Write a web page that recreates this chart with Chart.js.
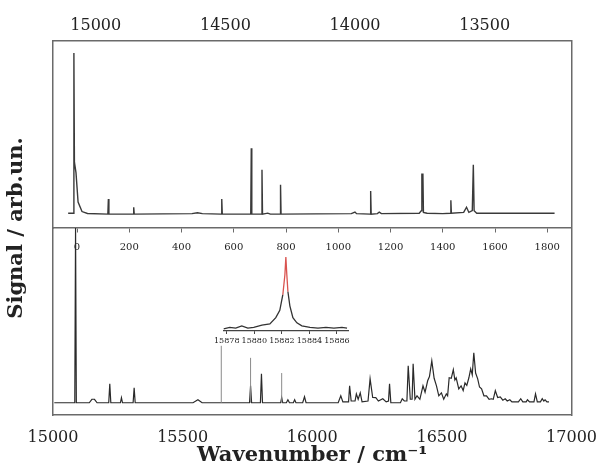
<!DOCTYPE html>
<html>
<head>
<meta charset="utf-8">
<script src="https://cdn.jsdelivr.net/npm/chart.js@4.4.1/dist/chart.umd.min.js"></script>
<style>
  body { margin: 0; background: #fff; }
  #wrap { position: relative; width: 610px; height: 464px; }
  #main { position: absolute; left: 0; top: 0; }
  #inset { position: absolute; left: 208px; top: 250px; }
</style>
</head>
<body>
<div id="wrap">
  <canvas id="main" width="610" height="464"></canvas>
  <canvas id="inset" width="160" height="100"></canvas>
</div>
<script>
// --- tick labels ---
const topTicks = [15000, 14500, 14000, 13500];
const shiftTicks = [0, 200, 400, 600, 800, 1000, 1200, 1400, 1600, 1800];
const bottomTicks = [15000, 15500, 16000, 16500, 17000];
const insetTicks = [15878, 15880, 15882, 15884, 15886];

// --- upper spectrum (shift, cm-1) ---
const topShift = [-34, -15, -12, -10, -4, 4, 19, 40, 118, 120, 122, 215, 217, 219, 440, 461, 480,
  552, 554, 556, 665, 667, 669, 706, 708, 710, 730, 740, 777, 779, 781, 1050, 1064, 1070,
  1122, 1124, 1126, 1150, 1157, 1165, 1310, 1318, 1320, 1324, 1326, 1340, 1400, 1429, 1431, 1433,
  1480, 1491, 1500, 1513, 1517, 1520, 1530, 1828];
const topSignal = [0.005, 0.005, 0.93, 0.3, 0.24, 0.07, 0.015, 0.004, 0, 0.087, 0, 0, 0.04, 0, 0.003, 0.008, 0.003,
  0, 0.087, 0, 0, 0.38, 0, 0, 0.256, 0, 0.006, 0, 0, 0.17, 0, 0.003, 0.012, 0.003,
  0, 0.134, 0, 0.003, 0.012, 0.003, 0.005, 0.02, 0.23, 0.23, 0.01, 0.005, 0.003, 0.005, 0.08, 0.005,
  0.01, 0.04, 0.01, 0.02, 0.285, 0.02, 0.005, 0.005];

// --- lower spectrum (wavenumber, cm-1) ---
const botWn = [15005, 15084, 15087, 15090, 15140, 15150, 15160, 15170, 15215, 15219, 15223, 15260, 15264, 15268,
  15309, 15313, 15317, 15540, 15559, 15575, 15758, 15762, 15766, 15800, 15804, 15808, 15878, 15882, 15886,
  15900, 15906, 15912, 15927, 15932, 15937, 15963, 15970, 15976, 16100, 16110, 16118, 16140, 16144, 16150,
  16165, 16170, 16177, 16185, 16192, 16215, 16223, 16233, 16245, 16255, 16272, 16285, 16294, 16298, 16303,
  16340, 16347, 16355, 16365, 16370, 16378, 16385, 16389, 16396, 16404, 16415, 16427, 16435, 16445, 16452,
  16461, 16470, 16479, 16488, 16498, 16507, 16517, 16522, 16528, 16536, 16544, 16550, 16555, 16565, 16574,
  16582, 16589, 16596, 16604, 16611, 16617, 16623, 16630, 16638, 16645, 16653, 16662, 16672, 16682, 16691,
  16698, 16706, 16715, 16725, 16735, 16744, 16752, 16762, 16770, 16795, 16804, 16812, 16825, 16830, 16838,
  16855, 16861, 16868, 16880, 16887, 16893, 16898, 16905, 16913];
const botSignal = [0, 0, 1.0, 0, 0, 0.02, 0.02, 0, 0, 0.109, 0, 0, 0.029, 0,
  0, 0.086, 0, 0, 0.017, 0, 0, 0.097, 0, 0, 0.166, 0, 0, 0.03, 0,
  0, 0.017, 0, 0, 0.017, 0, 0, 0.034, 0, 0, 0.04, 0.005, 0.005, 0.097, 0.01,
  0.01, 0.051, 0.02, 0.057, 0.005, 0.01, 0.137, 0.03, 0.029, 0.01, 0.023, 0.005, 0.01, 0.109, 0,
  0, 0.023, 0.01, 0.01, 0.211, 0.02, 0.02, 0.223, 0.02, 0.04, 0.02, 0.097, 0.06, 0.126, 0.15,
  0.24, 0.14, 0.097, 0.04, 0.057, 0.02, 0.051, 0.04, 0.143, 0.14, 0.189, 0.13, 0.143, 0.08, 0.097,
  0.07, 0.114, 0.1, 0.143, 0.194, 0.16, 0.286, 0.17, 0.137, 0.09, 0.08, 0.04, 0.04, 0.02, 0.023,
  0.02, 0.069, 0.03, 0.034, 0.015, 0.023, 0.01, 0.017, 0.005, 0.005, 0.023, 0.005, 0.005, 0.017, 0.005,
  0.005, 0.051, 0.005, 0.005, 0.023, 0.01, 0.017, 0.005, 0.005];

// thin grey lines in the lower panel
const lineWn = [15649, 15762, 15882];
const lineSignal = [0.326, 0.257, 0.17];

// --- inset: zoom on the 15882 line ---
const insetWn = [15877.78, 15878.22, 15878.65, 15879.09, 15879.53, 15879.96, 15880.55, 15881.13, 15881.56,
  15881.85, 15882.07, 15882.22, 15882.29, 15882.36, 15882.44, 15882.58, 15882.8, 15883.09, 15883.45,
  15884.04, 15884.62, 15885.2, 15885.78, 15886.36, 15886.73];
const insetSignal = [0.03, 0.05, 0.04, 0.07, 0.04, 0.05, 0.08, 0.095, 0.18,
  0.28, 0.49, 0.76, 1.0, 0.76, 0.53, 0.34, 0.18, 0.11, 0.07,
  0.05, 0.04, 0.05, 0.04, 0.05, 0.04];

// --- helpers ---
const SERIF = '"DejaVu Serif", serif';
const INK = '#222';
const frame = { display: true, color: '#6a6a6a', width: 1.5 };
const noGrid = { display: false, drawTicks: false };
const asText = v => String(v);
const zip = (xs, ys) => xs.map((x, i) => ({ x: x, y: ys[i] }));
function fixTicks(list) {
    return axis => { axis.ticks = list.map(v => ({ value: v })); };
}

const linePoints = [];
lineWn.forEach((x, i) => {
    linePoints.push({ x: x, y: 0 }, { x: x, y: lineSignal[i] }, { x: x, y: null });
});

// --- main figure ---
new Chart(document.getElementById('main'), {
    type: 'line',
    data: {
        datasets: [
            { data: zip(topShift, topSignal), xAxisID: 'xs', yAxisID: 'yTop',
              borderColor: '#3a3a3a', borderWidth: 1.4, pointRadius: 0, tension: 0 },
            { data: linePoints, xAxisID: 'x', yAxisID: 'yBot',
              borderColor: '#8a8a8a', borderWidth: 1, pointRadius: 0, tension: 0, spanGaps: false },
            { data: zip(botWn, botSignal), xAxisID: 'x', yAxisID: 'yBot',
              borderColor: '#2a2a2a', borderWidth: 1.2, pointRadius: 0, tension: 0 }
        ]
    },
    options: {
        responsive: false,
        animation: false,
        devicePixelRatio: 1,
        events: [],
        layout: { padding: 0 },
        plugins: { legend: { display: false }, tooltip: { enabled: false } },
        scales: {
            x: {
                type: 'linear', position: 'bottom', min: 15000, max: 17000,
                afterBuildTicks: fixTicks(bottomTicks),
                grid: noGrid, border: frame,
                ticks: { font: { family: SERIF, size: 16 }, color: INK, padding: 13, callback: asText, maxRotation: 0, autoSkip: false },
                title: { display: true, text: 'Wavenumber / cm⁻¹', color: INK, padding: { top: 0, bottom: -4 },
                         font: { family: SERIF, size: 21, weight: 'bold' } },
                afterFit: s => { s.height = 49; }
            },
            xt: {
                type: 'linear', position: 'top', reverse: true, min: 13165, max: 15165,
                afterBuildTicks: fixTicks(topTicks),
                grid: noGrid, border: frame,
                ticks: { font: { family: SERIF, size: 16 }, color: INK, padding: 6, callback: asText, maxRotation: 0, autoSkip: false },
                afterFit: s => { s.height = 41; }
            },
            xs: {
                type: 'linear', position: { yBot: 1 }, min: -92, max: 1893,
                afterBuildTicks: fixTicks(shiftTicks),
                grid: { display: true, drawOnChartArea: false, drawTicks: true, tickLength: 4, color: '#6a6a6a' },
                border: frame,
                ticks: { font: { family: SERIF, size: 10 }, color: INK, padding: 9, callback: asText, maxRotation: 0, autoSkip: false }
            },
            yBot: {
                type: 'linear', position: 'left', stack: 'panels', stackWeight: 1, min: -0.07, max: 1,
                grid: noGrid, border: frame, ticks: { display: false },
                afterFit: s => { s.width = 0; }
            },
            yTop: {
                type: 'linear', position: 'left', stack: 'panels', stackWeight: 1, min: -0.08, max: 1,
                grid: noGrid, border: frame, ticks: { display: false },
                afterFit: s => { s.width = 0; }
            },
            yTitle: {
                type: 'linear', position: 'left', weight: 1, min: 0, max: 1,
                grid: noGrid, border: { display: false }, ticks: { display: false },
                title: { display: true, text: 'Signal / arb.un.', color: INK, padding: 4,
                         font: { family: SERIF, size: 21, weight: 'bold' } },
                afterFit: s => { s.width = 53; }
            },
            yR: {
                type: 'linear', position: 'right', min: 0, max: 1,
                grid: noGrid, border: frame, ticks: { display: false },
                afterFit: s => { s.width = 27; }
            }
        }
    }
});

// --- inset ---
new Chart(document.getElementById('inset'), {
    type: 'line',
    data: {
        datasets: [{
            data: zip(insetWn, insetSignal),
            borderColor: '#333', borderWidth: 1.3, pointRadius: 0, tension: 0, clip: false,
            segment: {
                borderColor: ctx => (ctx.p0.parsed.y > 0.45 && ctx.p1.parsed.y > 0.45) ? '#d9534f' : '#333'
            }
        }]
    },
    options: {
        responsive: false,
        animation: false,
        devicePixelRatio: 1,
        events: [],
        layout: { padding: { left: 16, right: 20, top: 7, bottom: 0 } },
        plugins: { legend: { display: false }, tooltip: { enabled: false } },
        scales: {
            x: {
                type: 'linear', min: 15877.8, max: 15886.8,
                afterBuildTicks: fixTicks(insetTicks),
                grid: { display: true, drawOnChartArea: false, drawTicks: true, tickLength: 3, color: '#444' },
                border: { display: true, color: '#444', width: 1.2 },
                ticks: { font: { family: SERIF, size: 8 }, color: INK, padding: 2, callback: asText, maxRotation: 0, autoSkip: false },
                afterFit: s => { s.height = 19; }
            },
            y: { display: false, min: 0, max: 1 }
        }
    }
});
</script>
</body>
</html>
